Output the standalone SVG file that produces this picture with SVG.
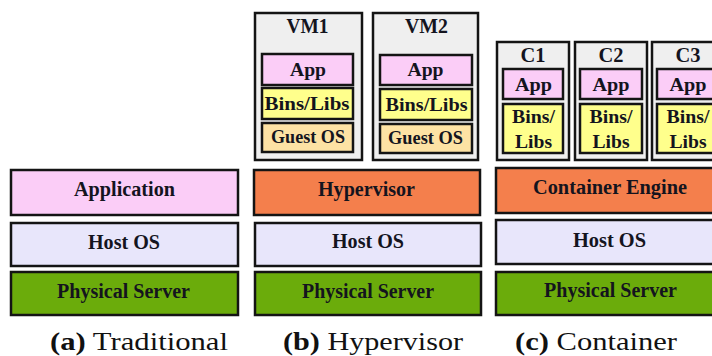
<svg xmlns="http://www.w3.org/2000/svg" width="712" height="356" viewBox="0 0 712 356">
<style>
.b{stroke:#141414;stroke-width:2.5}
.t{font-family:"Liberation Serif","Times New Roman",serif;font-weight:bold;fill:#14141e;text-anchor:middle}
.l{font-size:20px}
.s{font-size:19.5px}
.h{font-size:20px}
.cap{font-family:"Liberation Serif","Times New Roman",serif;font-size:25px;fill:#111}
.app{fill:#fbcdf7}
.os{fill:#e8e6fb}
.ps{fill:#6bac0b}
.hv{fill:#f47f4c}
.bl{fill:#ffff8c}
.go{fill:#fde2a4}
.vm{fill:#efefef}
</style>
<rect width="712" height="356" fill="#fff"/>
<g id="traditional">
<g id="a-app"><rect class="b app" x="11" y="170" width="227" height="45"/><text class="t l" x="124.5" y="196" textLength="101" lengthAdjust="spacingAndGlyphs">Application</text></g>
<g id="a-os"><rect class="b os" x="11" y="223" width="227" height="43"/><text class="t l" x="124" y="249" textLength="72" lengthAdjust="spacingAndGlyphs">Host OS</text></g>
<g id="a-ps"><rect class="b ps" x="11" y="272" width="227" height="43"/><text class="t l" x="123.5" y="298" textLength="133" lengthAdjust="spacingAndGlyphs">Physical Server</text></g>
<text class="cap" x="50" y="350" textLength="178" lengthAdjust="spacingAndGlyphs"><tspan font-weight="bold">(a)</tspan> Traditional</text>
</g>
<g id="hypervisor">
<g id="vm1"><rect class="b vm" x="255" y="13" width="107" height="147"/><text class="t h" x="307.5" y="33" textLength="42" lengthAdjust="spacingAndGlyphs">VM1</text>
<rect class="b app" x="262" y="54" width="91" height="31"/><text class="t s" x="308" y="76" textLength="36" lengthAdjust="spacingAndGlyphs">App</text>
<rect class="b bl" x="262" y="88" width="91" height="31"/><text class="t s" x="307" y="110" textLength="85" lengthAdjust="spacingAndGlyphs">Bins/Libs</text>
<rect class="b go" x="262" y="123" width="91" height="29"/><text class="t s" x="308" y="143" textLength="74" lengthAdjust="spacingAndGlyphs">Guest OS</text></g>
<g id="vm2"><rect class="b vm" x="373" y="13" width="105" height="147"/><text class="t h" x="426.5" y="33" textLength="43" lengthAdjust="spacingAndGlyphs">VM2</text>
<rect class="b app" x="380" y="55" width="92" height="30"/><text class="t s" x="425.5" y="76" textLength="36" lengthAdjust="spacingAndGlyphs">App</text>
<rect class="b bl" x="380" y="89" width="92" height="31"/><text class="t s" x="426.5" y="111" textLength="82" lengthAdjust="spacingAndGlyphs">Bins/Libs</text>
<rect class="b go" x="380" y="124" width="92" height="29"/><text class="t s" x="425.5" y="144" textLength="75" lengthAdjust="spacingAndGlyphs">Guest OS</text></g>
<g id="b-hv"><rect class="b hv" x="254" y="170" width="226" height="45"/><text class="t l" x="366.5" y="196" textLength="97" lengthAdjust="spacingAndGlyphs">Hypervisor</text></g>
<g id="b-os"><rect class="b os" x="255" y="223" width="226" height="43"/><text class="t l" x="368" y="248" textLength="72" lengthAdjust="spacingAndGlyphs">Host OS</text></g>
<g id="b-ps"><rect class="b ps" x="255" y="272" width="226" height="43"/><text class="t l" x="368" y="298" textLength="132" lengthAdjust="spacingAndGlyphs">Physical Server</text></g>
<text class="cap" x="283" y="350" textLength="180" lengthAdjust="spacingAndGlyphs"><tspan font-weight="bold">(b)</tspan> Hypervisor</text>
</g>
<g id="container">
<g id="c1"><rect class="b vm" x="497" y="42" width="72" height="118"/><text class="t h" x="533" y="62" textLength="25" lengthAdjust="spacingAndGlyphs">C1</text>
<rect class="b app" x="503" y="69" width="60" height="30"/><text class="t s" x="533.5" y="91" textLength="37" lengthAdjust="spacingAndGlyphs">App</text>
<rect class="b bl" x="503" y="104" width="60" height="49"/><text class="t s" x="533.5" y="123" textLength="43" lengthAdjust="spacingAndGlyphs">Bins/</text><text class="t s" x="533.5" y="148" textLength="37" lengthAdjust="spacingAndGlyphs">Libs</text></g>
<g id="c2"><rect class="b vm" x="575" y="42" width="72" height="118"/><text class="t h" x="611" y="62" textLength="25" lengthAdjust="spacingAndGlyphs">C2</text>
<rect class="b app" x="580" y="69" width="62" height="30"/><text class="t s" x="611" y="91" textLength="37" lengthAdjust="spacingAndGlyphs">App</text>
<rect class="b bl" x="580" y="104" width="62" height="49"/><text class="t s" x="611" y="123" textLength="43" lengthAdjust="spacingAndGlyphs">Bins/</text><text class="t s" x="611" y="148" textLength="37" lengthAdjust="spacingAndGlyphs">Libs</text></g>
<g id="c3"><rect class="b vm" x="652" y="42" width="72" height="118"/><text class="t h" x="688" y="62" textLength="25" lengthAdjust="spacingAndGlyphs">C3</text>
<rect class="b app" x="657" y="69" width="62" height="30"/><text class="t s" x="688" y="91" textLength="37" lengthAdjust="spacingAndGlyphs">App</text>
<rect class="b bl" x="657" y="104" width="62" height="49"/><text class="t s" x="688" y="123" textLength="43" lengthAdjust="spacingAndGlyphs">Bins/</text><text class="t s" x="688" y="148" textLength="37" lengthAdjust="spacingAndGlyphs">Libs</text></g>
<g id="c-ce"><rect class="b hv" x="496" y="168" width="230" height="45"/><text class="t l" x="610" y="194" textLength="154" lengthAdjust="spacingAndGlyphs">Container Engine</text></g>
<g id="c-os"><rect class="b os" x="496" y="220" width="230" height="44"/><text class="t l" x="609.5" y="247" textLength="73" lengthAdjust="spacingAndGlyphs">Host OS</text></g>
<g id="c-ps"><rect class="b ps" x="496" y="272" width="230" height="43"/><text class="t l" x="610.5" y="297" textLength="133" lengthAdjust="spacingAndGlyphs">Physical Server</text></g>
<text class="cap" x="515" y="350" textLength="162" lengthAdjust="spacingAndGlyphs"><tspan font-weight="bold">(c)</tspan> Container</text>
</g>
<g id="connectors"/>
</svg>
